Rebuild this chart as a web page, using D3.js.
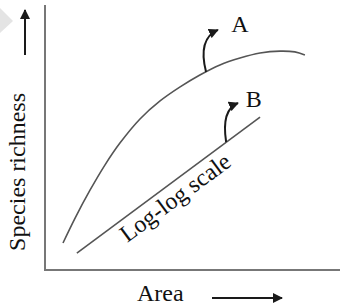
<!DOCTYPE html>
<html>
<head>
<meta charset="utf-8">
<script src="https://cdn.jsdelivr.net/npm/d3@7"></script>
<style>
  html, body { margin: 0; padding: 0; background: #fff; overflow: hidden; }
  svg { display: block; }
  text { font-family: "Liberation Serif", "Times New Roman", serif; fill: #111; }
</style>
</head>
<body>
<svg id="chart"></svg>
<script>
document.addEventListener("DOMContentLoaded", function() {
  const width = 340;
  const height = 307;

  // curve A: species-area relation on ordinary axes
  const curveAX = [0.61, 1.02, 1.53, 2.03, 2.54, 3.22, 3.90, 4.58, 5.25, 5.93, 6.61, 7.29, 7.97, 8.47, 8.81];
  const curveAY = [1.02, 1.96, 3.02, 3.96, 4.79, 5.70, 6.38, 6.91, 7.36, 7.74, 8.00, 8.19, 8.26, 8.23, 8.11];
  // line B: same relation on log-log scale
  const lineBX = [1.08, 7.29];
  const lineBY = [0.64, 5.77];

  // labels and their pointer arrows (base, bend, tip)
  const labels = ["A", "B"];
  const labelX = [6.61, 7.08];
  const labelY = [8.98, 6.15];
  const pointerX = [[5.46, 5.17, 5.86], [6.14, 5.97, 6.54]];
  const pointerY = [[7.47, 8.72, 9.06], [4.83, 6.04, 6.30]];

  const xTitle = "Area";
  const yTitle = "Species richness";
  const lineBTitle = "Log-log scale";

  const svg = d3.select("#chart")
    .attr("width", width)
    .attr("height", height);

  const x = d3.scaleLinear().domain([0, 10]).range([45, 340]);
  const y = d3.scaleLinear().domain([0, 10]).range([270, 5]);

  const defs = svg.append("defs");
  defs.append("marker")
    .attr("id", "head")
    .attr("viewBox", "0 0 10 10")
    .attr("refX", 9)
    .attr("refY", 5)
    .attr("markerUnits", "userSpaceOnUse")
    .attr("markerWidth", 10)
    .attr("markerHeight", 10)
    .attr("orient", "auto")
    .append("path")
    .attr("d", "M0,0 L10,5 L0,10 Z")
    .attr("fill", "#1a1a1a");

  // grey pointer at the left edge
  svg.append("path")
    .attr("d", "M0,8 L13,21 L0,33 Z")
    .attr("fill", "#e4e4e4");

  // axes (no ticks)
  svg.append("line")
    .attr("x1", x(0)).attr("x2", x(0))
    .attr("y1", y(10)).attr("y2", y(0))
    .attr("stroke", "#777").attr("stroke-width", 2);
  svg.append("line")
    .attr("x1", x(0) - 1).attr("x2", x(10))
    .attr("y1", y(0)).attr("y2", y(0))
    .attr("stroke", "#777").attr("stroke-width", 2);

  // axis titles with arrows
  svg.append("text")
    .attr("transform", `translate(25, ${y(3.7)}) rotate(-90)`)
    .attr("text-anchor", "middle")
    .style("font-size", "24px")
    .text(yTitle);
  svg.append("line")
    .attr("x1", 25).attr("x2", 25)
    .attr("y1", 55).attr("y2", 10)
    .attr("stroke", "#1a1a1a").attr("stroke-width", 2)
    .attr("marker-end", "url(#head)");

  svg.append("text")
    .attr("x", 137)
    .attr("y", 301)
    .style("font-size", "24px")
    .text(xTitle);
  svg.append("line")
    .attr("x1", 212).attr("x2", 282)
    .attr("y1", 298).attr("y2", 298)
    .attr("stroke", "#1a1a1a").attr("stroke-width", 2)
    .attr("marker-end", "url(#head)");

  // curve A
  const curveA = curveAX.map((v, i) => [v, curveAY[i]]);
  svg.append("path")
    .datum(curveA)
    .attr("d", d3.line().x(d => x(d[0])).y(d => y(d[1])).curve(d3.curveCatmullRom))
    .attr("fill", "none")
    .attr("stroke", "#555")
    .attr("stroke-width", 1.6);

  // line B
  const lineB = lineBX.map((v, i) => [v, lineBY[i]]);
  svg.append("path")
    .datum(lineB)
    .attr("d", d3.line().x(d => x(d[0])).y(d => y(d[1])))
    .attr("fill", "none")
    .attr("stroke", "#555")
    .attr("stroke-width", 1.6);

  // text along line B
  const bx0 = x(lineBX[0]), by0 = y(lineBY[0]);
  const bx1 = x(lineBX[1]), by1 = y(lineBY[1]);
  const len = Math.hypot(bx1 - bx0, by1 - by0);
  const ux = (bx1 - bx0) / len, uy = (by1 - by0) / len;
  const angle = Math.atan2(by1 - by0, bx1 - bx0) * 180 / Math.PI;
  const along = 112, off = 22;
  const tx = bx0 + ux * along - uy * off;
  const ty = by0 + uy * along + ux * off;
  svg.append("text")
    .attr("transform", `translate(${tx},${ty}) rotate(${angle})`)
    .attr("text-anchor", "middle")
    .style("font-size", "24px")
    .text(lineBTitle);

  // pointer arrows
  labels.forEach((lab, i) => {
    const p = d3.path();
    p.moveTo(x(pointerX[i][0]), y(pointerY[i][0]));
    p.quadraticCurveTo(x(pointerX[i][1]), y(pointerY[i][1]), x(pointerX[i][2]), y(pointerY[i][2]));
    svg.append("path")
      .attr("d", p.toString())
      .attr("fill", "none")
      .attr("stroke", "#1a1a1a")
      .attr("stroke-width", 2)
      .attr("marker-end", "url(#head)");

    svg.append("text")
      .attr("x", x(labelX[i]))
      .attr("y", y(labelY[i]))
      .attr("text-anchor", "middle")
      .style("font-size", "24px")
      .text(lab);
  });
});
</script>
</body>
</html>
